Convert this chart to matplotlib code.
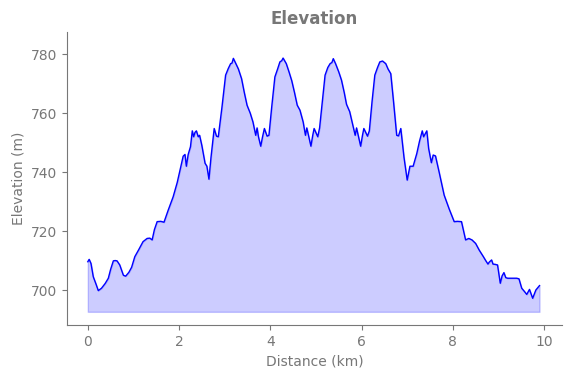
import matplotlib.pyplot as plt

# elevation profile (km, m)
distance_km = [
    0.00, 0.03, 0.07, 0.12, 0.18, 0.23, 0.30, 0.38, 0.45, 0.50, 0.56, 0.60, 0.64, 0.70,
    0.78, 0.83, 0.90, 0.96, 1.03, 1.12, 1.21, 1.30, 1.36, 1.41, 1.46, 1.52, 1.60, 1.67,
    1.76, 1.87, 1.96, 2.04, 2.09, 2.13, 2.16, 2.20, 2.25, 2.29, 2.32, 2.35, 2.38, 2.42,
    2.45, 2.50, 2.57, 2.61, 2.655, 2.70, 2.77, 2.82, 2.86, 2.94, 3.02, 3.08, 3.13, 3.16,
    3.19, 3.24, 3.30, 3.37, 3.43, 3.49, 3.56, 3.62, 3.68, 3.71, 3.74, 3.79, 3.83, 3.87,
    3.93, 3.97, 4.03, 4.10, 4.16, 4.21, 4.25, 4.28, 4.35, 4.41, 4.47, 4.53, 4.59, 4.65,
    4.72, 4.77, 4.80, 4.85, 4.89, 4.93, 4.96, 5.04, 5.08, 5.14, 5.20, 5.26, 5.31, 5.35,
    5.38, 5.43, 5.50, 5.56, 5.62, 5.67, 5.74, 5.80, 5.86, 5.89, 5.94, 5.98, 6.02, 6.05,
    6.13, 6.17, 6.23, 6.29, 6.35, 6.40, 6.46, 6.53, 6.58, 6.64, 6.70, 6.77, 6.81, 6.86,
    6.93, 7.00, 7.06, 7.13, 7.21, 7.27, 7.33, 7.36, 7.43, 7.47, 7.53, 7.57, 7.62, 7.70,
    7.81, 7.92, 8.03, 8.10, 8.19, 8.28, 8.35, 8.42, 8.50, 8.58, 8.67, 8.72, 8.77, 8.80,
    8.85, 8.88, 8.93, 8.98, 9.04, 9.08, 9.12, 9.16, 9.20, 9.30, 9.40, 9.45, 9.51, 9.57,
    9.62, 9.68, 9.75, 9.82, 9.90,
]
elevation_m = [
    709.6, 710.4, 709.0, 704.5, 702.0, 699.8, 700.6, 702.2, 704.0, 707.0, 709.9, 710.0, 709.9, 708.5,
    705.0, 704.7, 706.0, 707.7, 711.3, 713.8, 716.4, 717.5, 717.6, 717.0, 720.5, 723.2, 723.3, 723.0,
    727.0, 731.6, 736.5, 742.0, 745.4, 746.0, 742.0, 746.0, 748.6, 754.0, 752.0, 753.5, 754.0, 752.0,
    752.5, 749.0, 743.0, 742.0, 737.6, 745.0, 754.8, 752.2, 752.0, 762.0, 772.9, 775.2, 776.8, 777.0,
    778.6, 777.0, 775.0, 771.7, 767.0, 762.7, 760.0, 757.0, 752.5, 755.0, 752.0, 748.8, 752.0, 754.8,
    752.2, 752.5, 762.0, 772.3, 775.0, 777.4, 777.8, 778.7, 776.8, 774.0, 771.0, 767.0, 762.7, 761.0,
    757.0, 752.5, 755.0, 751.5, 748.8, 752.5, 754.8, 752.0, 755.0, 764.0, 772.9, 775.5, 776.8, 777.2,
    778.5, 776.8, 774.0, 771.2, 767.0, 763.0, 760.5, 756.5, 752.5, 755.0, 751.5, 748.8, 752.5, 754.8,
    752.2, 754.0, 764.0, 772.9, 775.5, 777.4, 777.7, 776.8, 775.0, 773.4, 764.0, 752.5, 752.3, 754.8,
    745.0, 737.3, 742.0, 742.0, 746.3, 750.5, 754.0, 752.0, 754.0, 748.0, 743.2, 745.8, 745.5, 740.0,
    732.2, 727.5, 723.2, 723.3, 723.2, 717.0, 717.5, 717.0, 715.8, 713.5, 711.3, 710.0, 708.8, 709.5,
    710.2, 708.8, 708.7, 708.5, 702.3, 704.8, 705.9, 704.2, 704.0, 704.0, 704.0, 703.8, 700.6, 699.5,
    698.5, 700.2, 697.2, 700.0, 701.5,
]

base_m = min(elevation_m) - 4.6

fig, ax = plt.subplots(figsize=(5.71, 3.78), dpi=100)
fig.subplots_adjust(left=0.117, right=0.984, bottom=0.140, top=0.915)

ax.plot(distance_km, elevation_m, color='blue', linewidth=1)
ax.fill_between(distance_km, elevation_m, base_m, color='blue', alpha=0.2)

ax.set_xlim(-0.46, 10.39)
ax.set_ylim(688.1, 787.5)
ax.set_xticks([0, 2, 4, 6, 8, 10])
ax.set_yticks([700, 720, 740, 760, 780])

grey = '#777777'
ax.set_title('Elevation', color=grey, fontsize=12, fontweight='bold')
ax.set_xlabel('Distance (km)', color=grey)
ax.set_ylabel('Elevation (m)', color=grey)
ax.tick_params(colors=grey, labelcolor=grey)
for side in ['top', 'right']:
    ax.spines[side].set_visible(False)
for side in ['left', 'bottom']:
    ax.spines[side].set_color(grey)

fig.savefig('out.png')
